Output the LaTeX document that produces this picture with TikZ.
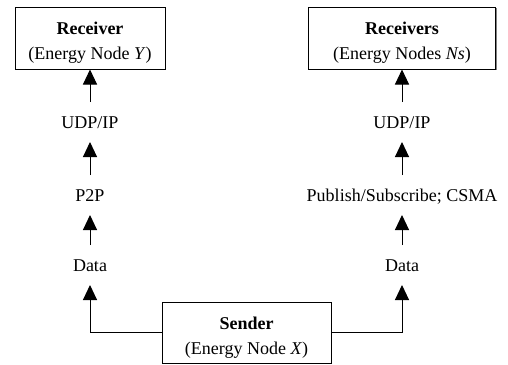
\documentclass[tikz,border=0pt]{standalone}
\usepackage{fontspec}
\setmainfont{Liberation Serif}
\usetikzlibrary{arrows.meta,shadows}

\newcommand{\boxstrut}{\rule{0pt}{11pt}}

\tikzset{
  box/.style={draw, line width=0.5pt, fill=white, align=center, inner sep=0pt,
    drop shadow={shadow xshift=0.6pt, shadow yshift=-0.6pt, fill=gray, opacity=1}},
  lbl/.style={inner sep=0pt, outer xsep=0pt, outer ysep=7pt, text height=6pt, text depth=0pt},
  up/.style={-{Triangle[width=7pt,length=7.5pt]}, line width=0.5pt},
}

\begin{document}
\begin{tikzpicture}[x=0.5pt,y=-0.5pt,font=\fontsize{9}{12.5}\selectfont]
\useasboundingbox (0,0) rectangle (508,364);

% boxes
\node[box, minimum width=75pt, minimum height=31pt] (rcv) at (90,38) {\boxstrut\textbf{Receiver}\\(Energy Node \textit{Y})};
\node[box, minimum width=93.5pt, minimum height=31pt] (rcvs) at (402,38) {\boxstrut\textbf{Receivers}\\(Energy Nodes \textit{Ns})};
\node[box, minimum width=84.5pt, minimum height=30.5pt] (snd) at (246.5,332.5) {\boxstrut\textbf{Sender}\\(Energy Node \textit{X})};

% left stack
\node[lbl] (udpL) at (90,122) {UDP/IP};
\node[lbl] (ptp) at (90,195) {P2P};
\node[lbl] (dataL) at (90,265) {Data};

% right stack
\node[lbl] (udpR) at (402,122) {UDP/IP};
\node[lbl] (pubsub) at (402,195) {Publish/Subscribe; CSMA};
\node[lbl] (dataR) at (402,265) {Data};

\draw[up] (udpL) -- (rcv);
\draw[up] (ptp) -- (udpL);
\draw[up] (dataL) -- (ptp);
\draw[up] (snd.west) -| (dataL);

\draw[up] (udpR) -- (rcvs);
\draw[up] (pubsub) -- (udpR);
\draw[up] (dataR) -- (pubsub);
\draw[up] (snd.east) -| (dataR);

\end{tikzpicture}
\end{document}
